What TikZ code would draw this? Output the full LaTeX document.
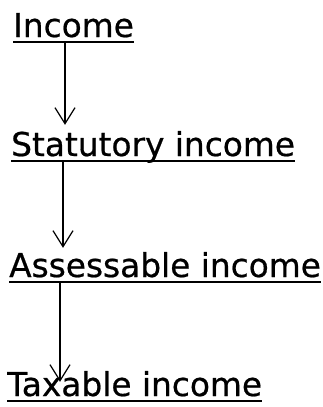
\documentclass[tikz,border=0pt]{standalone}
\usepackage{fontspec}
\setmainfont{DejaVu Sans}
\newfontfamily\termfont[FakeBold=0.6]{DejaVu Sans}
\usetikzlibrary{arrows.meta}
\begin{document}
\begin{tikzpicture}[x=1pt, y=-1pt,
  term/.style={inner sep=0pt, anchor=base west, text height=24pt, text depth=0pt, font=\termfont\fontsize{32.8}{38}\selectfont},
  uline/.style={line width=1.8pt},
  flow/.style={line width=1.2pt, -{Straight Barb[length=16pt,width=20pt]}, shorten <=5pt}]
\useasboundingbox (0,0) rectangle (322,407);
\node[term] (inc) at (13,37){Income};
\node[term] (stat) at (11,156){Statutory income};
\node[term] (ass) at (9,277){Assessable income};
\node[term] (tax) at (7,396){Taxable income};
\draw[uline]([yshift=-5pt]inc.base west) -- ([yshift=-5pt]inc.base east);
\draw[uline]([yshift=-5pt]stat.base west) -- ([yshift=-5pt]stat.base east);
\draw[uline]([yshift=-5pt]ass.base west) -- ([yshift=-5pt]ass.base east);
\draw[uline]([yshift=-5pt]tax.base west) -- ([yshift=-5pt]tax.base east);
\coordinate (a1) at (65,0);
\coordinate (a2) at (63,0);
\coordinate (a3) at (60,0);
\draw[flow, shorten >=7pt](inc.south -| a1) -- (stat.north -| a1);
\draw[flow, shorten >=5pt](stat.south -| a2) -- (ass.north -| a2);
\draw[flow, shorten >=-10pt](ass.south -| a3) -- (tax.north -| a3);
\end{tikzpicture}
\end{document}
